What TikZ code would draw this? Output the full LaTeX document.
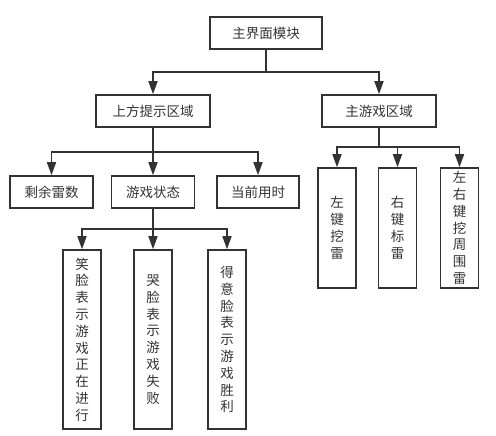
\documentclass[tikz,border=0pt]{standalone}
\usepackage{fontspec}
\setmainfont{Noto Sans CJK SC}
\usetikzlibrary{arrows.meta}
\definecolor{ln}{HTML}{333333}
\tikzset{
  x=1pt, y=-1pt,
  box/.style={draw=ln, line width=1.6pt, inner sep=0pt, text=ln,
    font=\fontsize{13.5}{16.8}\selectfont, align=center},
  hbox/.style={box, minimum width=#1, minimum height=32pt},
  vbox/.style={box, minimum width=38pt, minimum height=#1},
  conn/.style={draw=ln, line width=1.6pt},
  arr/.style={conn, -{Triangle[length=13pt,width=9pt]}},
}
\begin{document}
\begin{tikzpicture}
\useasboundingbox (0,0) rectangle (496,436);
\node[hbox=112pt] (top) at (266,33) {主界面模块};
\node[hbox=114pt] (up) at (153,111) {上方提示区域};
\node[hbox=114pt] (game) at (379,111) {主游戏区域};
\node[hbox=83pt] (rem) at (51.5,192) {剩余雷数};
\node[hbox=83pt] (state) at (153,192) {游戏状态};
\node[hbox=82pt] (time) at (258,192) {当前用时};
\node[vbox=120pt] (lk) at (337,228) {左\\键\\挖\\雷};
\node[vbox=120pt] (rk) at (397.5,228) {右\\键\\标\\雷};
\node[vbox=120pt] (lrk) at (459.5,228) {左\\右\\键\\挖\\周\\围\\雷};
\node[vbox=179pt] (smile) at (82,339.5) {笑\\脸\\表\\示\\游\\戏\\正\\在\\进\\行};
\node[vbox=179pt] (cry) at (153,339.5) {哭\\脸\\表\\示\\游\\戏\\失\\败};
\node[vbox=179pt] (proud) at (227,339.5) {得\\意\\脸\\表\\示\\游\\戏\\胜\\利};
\coordinate (j1) at (266,72);
\coordinate (j2) at (153,152);
\coordinate (j3) at (379,147);
\coordinate (j4) at (153,229);
\draw[conn] (top.south) -- (j1);
\draw[arr] (j1) -| (up.north);
\draw[arr] (j1) -| (game.north);
\draw[conn] (up.south) -- (j2);
\draw[arr] (j2) -| (rem.north);
\draw[arr] (up.south) -- (state.north);
\draw[arr] (j2) -| (time.north);
\draw[conn] (game.south) -- (j3);
\draw[arr] (j3) -| (lk.north);
\draw[arr] (j3) -| (rk.north);
\draw[arr] (j3) -| (lrk.north);
\draw[conn] (state.south) -- (j4);
\draw[arr] (j4) -| (smile.north);
\draw[arr] (j4) -- (cry.north);
\draw[arr] (j4) -| (proud.north);
\end{tikzpicture}
\end{document}
